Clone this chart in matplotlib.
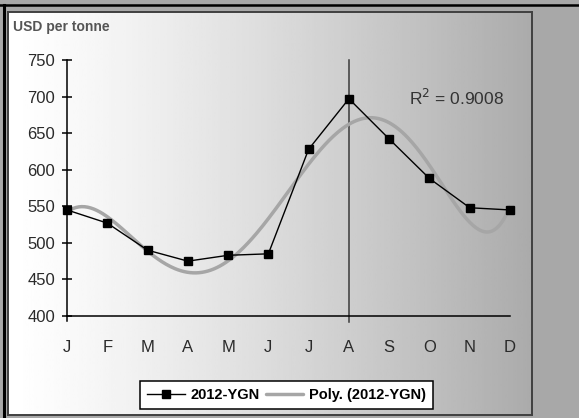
import numpy as np
import matplotlib
matplotlib.use('Agg')
import matplotlib.pyplot as plt
from matplotlib.lines import Line2D

months = ['J', 'F', 'M', 'A', 'M', 'J', 'J', 'A', 'S', 'O', 'N', 'D']
prices = [545, 527, 490, 475, 483, 485, 628, 697, 642, 588, 548, 545]
y_ticks = [400, 450, 500, 550, 600, 650, 700, 750]
series_name = '2012-YGN'
trend_name = 'Poly. (2012-YGN)'
r2_label = 'R$^2$ = 0.9008'
marker_month = 7  # August


def px(x, y, w=579, h=418):
	# pixel coords (top-left origin) -> figure fraction
	return x / w, 1 - y / h


def draw_frame(fig):
	# chart box with horizontal white -> grey gradient
	x0, y0 = px(8, 415)
	x1, y1 = px(532, 12)
	bg = fig.add_axes([x0, y0, x1 - x0, y1 - y0], zorder=0)
	t = np.linspace(0, 1, 256)
	vals = 1.0 - 0.33 * t ** 1.25
	bg.imshow(vals[np.newaxis, :], cmap='gray', vmin=0, vmax=1, aspect='auto',
			  extent=[0, 1, 0, 1])
	bg.set_xticks([])
	bg.set_yticks([])
	for s in bg.spines.values():
		s.set_color('#404040')
		s.set_linewidth(1.4)
	# outer black edges
	fig.add_artist(Line2D([0, 1], [1 - 4.5 / 418] * 2, color='black', lw=1.8,
						  transform=fig.transFigure))
	fig.add_artist(Line2D([4 / 579] * 2, [0, 1 - 4.5 / 418], color='black', lw=2.2,
						  transform=fig.transFigure))


def main():
	fig = plt.figure(figsize=(5.79, 4.18), dpi=100)
	fig.patch.set_facecolor('#a8a8a8')
	plt.rcParams['font.family'] = ['Liberation Sans', 'DejaVu Sans']

	draw_frame(fig)

	left, bottom = px(67, 316)
	right, top = px(510, 60)
	ax = fig.add_axes([left, bottom, right - left, top - bottom], zorder=2)
	ax.patch.set_alpha(0)

	x = np.arange(len(months))
	coef = np.polyfit(x, prices, 6)
	xs = np.linspace(0, len(months) - 1, 300)
	ax.plot(xs, np.polyval(coef, xs), color='#a6a6a6', lw=2.5, label=trend_name,
			solid_capstyle='round', zorder=3)
	ax.plot(x, prices, color='black', lw=1.0, marker='s', markersize=6,
			label=series_name, zorder=4, clip_on=False)

	ax.axvline(marker_month, ymin=-0.025, ymax=1, color='#3a3a3a', lw=1.1,
			   clip_on=False, zorder=2)
	ax.plot([0, 0], [400, 393], color='black', lw=1.1, clip_on=False)

	ax.set_xlim(0, len(months) - 1)
	ax.set_ylim(y_ticks[0], y_ticks[-1])
	ax.set_xticks(x)
	ax.set_xticklabels(months)
	ax.set_yticks(y_ticks)
	ax.tick_params(axis='x', length=0, pad=17, labelsize=12, labelcolor='#2a2a2a')
	ax.tick_params(axis='y', direction='inout', length=7, width=1.1, pad=5,
				   labelsize=12, labelcolor='#2a2a2a')
	for side in ('top', 'right'):
		ax.spines[side].set_visible(False)
	for side in ('left', 'bottom'):
		ax.spines[side].set_color('black')
		ax.spines[side].set_linewidth(1.1)

	tx, ty = px(13, 27)
	fig.text(tx, ty, 'USD per tonne', fontsize=10, fontweight='bold',
			 color='#555555', va='center', ha='left', zorder=5)
	rx, ry = px(409, 98)
	fig.text(rx, ry, r2_label, fontsize=12.5, color='#333333', va='center',
			 ha='left', zorder=5)

	handles, labels = ax.get_legend_handles_labels()
	lx, ly = px(286.5, 395)
	leg = fig.legend(handles[::-1], labels[::-1], loc='center', bbox_to_anchor=(lx, ly),
					 ncol=2, frameon=True, fancybox=False, framealpha=1,
					 edgecolor='black', fontsize=10.5, handlelength=2.6,
					 columnspacing=0.4, handletextpad=0.35, borderpad=0.5,
					 borderaxespad=0)
	leg.get_frame().set_linewidth(1.1)
	for t in leg.get_texts():
		t.set_fontweight('bold')
	leg.set_zorder(6)

	fig.savefig('out.png', dpi=100, facecolor=fig.get_facecolor())


if __name__ == '__main__':
	main()
